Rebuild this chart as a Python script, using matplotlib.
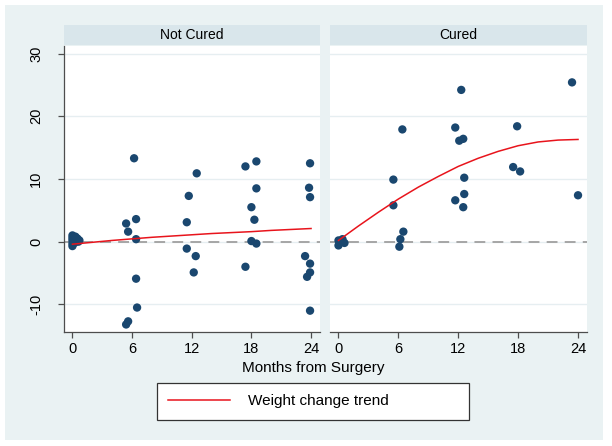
import matplotlib
matplotlib.use("Agg")
import matplotlib.pyplot as plt
from matplotlib.patches import Rectangle

plt.rcParams['font.family'] = ['Liberation Sans', 'DejaVu Sans']

# Not Cured panel: months after surgery and weight change
nc_months = [0, 0, 0, 0, 0, 0.1, 0.2, 0.3, 0.3, 0.5, 0.6, 0.7,
             5.4, 5.6, 6.4, 6.2, 6.4, 6.4, 6.5, 5.4, 5.6,
             11.5, 11.7, 12.5, 11.5, 12.4, 12.2,
             17.4, 18.5, 18.5, 18.0, 18.3, 18.0, 18.5, 17.4,
             23.9, 23.8, 23.9, 23.4, 23.9, 23.9, 23.6, 23.9]
nc_change = [1.0, 0.6, 0.2, -0.3, -0.7, 0.4, -0.2, 0.8, 0.3, 0.5, 0.0, 0.2,
             2.9, 1.6, 3.6, 13.3, 0.4, -5.9, -10.5, -13.2, -12.7,
             3.1, 7.3, 10.9, -1.1, -2.3, -4.9,
             12.0, 12.8, 8.5, 5.5, 3.5, 0.1, -0.3, -4.0,
             12.5, 8.6, 7.1, -2.3, -3.5, -4.9, -5.6, -11.0]

# Cured panel
c_months = [0, 0, 0.2, 0.4, 0.6,
            5.5, 5.5, 6.4, 6.5, 6.2, 6.1,
            12.3, 11.7, 12.1, 12.5, 12.6, 12.6, 11.7, 12.5,
            17.9, 17.5, 18.2, 23.4, 24.0]
c_change = [0.2, -0.6, 0.1, 0.4, -0.2,
            9.9, 5.8, 17.9, 1.6, 0.4, -0.8,
            24.2, 18.2, 16.1, 16.4, 10.2, 7.6, 6.6, 5.5,
            18.4, 11.9, 11.2, 25.4, 7.4]

# fitted trend
trend_months = [0, 2, 4, 6, 8, 10, 12, 14, 16, 18, 20, 22, 24]
nc_trend = [-0.4, -0.1, 0.2, 0.45, 0.7, 0.9, 1.1, 1.3, 1.45, 1.6, 1.8, 1.95, 2.1]
c_trend = [0.2, 2.5, 4.7, 6.8, 8.7, 10.4, 12.0, 13.3, 14.4, 15.3, 15.9, 16.2, 16.3]

panels = ['Not Cured', 'Cured']
x_ticks = [0, 6, 12, 18, 24]
y_ticks = [-10, 0, 10, 20, 30]
y_labels = ['-10', '0', '10', '20', '30']

W, H = 612, 446
fig = plt.figure(figsize=(W / 100, H / 100), dpi=100)
fig.patch.set_facecolor('white')

# graph region background
fig.patches.append(Rectangle((5 / W, 1 - 440 / H), 598 / W, 435 / H,
                             transform=fig.transFigure, facecolor='#eaf2f3',
                             edgecolor='none', zorder=-5))

navy = '#1a476f'
axis_col = '#4d4d4d'


def px_rect(x0, y0, x1, y1):
    return [x0 / W, 1 - y1 / H, (x1 - x0) / W, (y1 - y0) / H]


panel_x = [(64, 320), (330, 587)]
data = [(nc_months, nc_change, nc_trend), (c_months, c_change, c_trend)]

trend_line = None
for i, (title, (x0, x1), (mx, ch, tr)) in enumerate(zip(panels, panel_x, data)):
    ax = fig.add_axes(px_rect(x0, 46, x1, 332))
    ax.set_facecolor('white')
    ax.set_xlim(-0.85, 24.9)
    ax.set_ylim(-14.4, 31.2)
    for y in y_ticks:
        ax.axhline(y, color='#e6eef1', lw=1, zorder=1)
    ax.axhline(0, color='#a0a0a0', lw=1.3, ls=(0, (6, 4)), zorder=2)
    ax.scatter(mx, ch, s=36, color=navy, edgecolors='none', zorder=3)
    trend_line, = ax.plot(trend_months, tr, color='#e8141c', lw=1.1, zorder=4)

    for side in ['top', 'right']:
        ax.spines[side].set_visible(False)
    ax.spines['bottom'].set_color(axis_col)
    ax.spines['bottom'].set_linewidth(0.9)
    ax.set_xticks(x_ticks)
    ax.tick_params(axis='x', colors=axis_col, labelcolor='black', labelsize=10.5,
                   length=4, width=0.9, pad=3)
    ax.set_yticks(y_ticks)
    if i == 0:
        ax.spines['left'].set_color(axis_col)
        ax.spines['left'].set_linewidth(0.9)
        ax.set_yticklabels(y_labels, rotation=90, va='center', ha='right')
        ax.tick_params(axis='y', colors=axis_col, labelcolor='black', labelsize=10.5,
                       length=4, width=0.9, pad=11)
    else:
        ax.spines['left'].set_visible(False)
        ax.tick_params(axis='y', left=False, labelleft=False)

    # panel header strip
    sax = fig.add_axes(px_rect(x0, 25, x1, 45))
    sax.set_facecolor('#d9e6eb')
    sax.set_xticks([])
    sax.set_yticks([])
    for sp in sax.spines.values():
        sp.set_visible(False)
    sax.text(0.5, 0.5, title, ha='center', va='center', fontsize=10,
             transform=sax.transAxes)

fig.text(313 / W, 1 - 368 / H, 'Months from Surgery', ha='center', va='center',
         fontsize=11)

leg = fig.legend([trend_line], ['Weight change trend'], loc='center',
                 bbox_to_anchor=(157 / W, 1 - 422 / H, 312 / W, 41 / H),
                 mode='expand', fontsize=11, frameon=True, fancybox=False,
                 framealpha=1, facecolor='white',
                 handlelength=4.0, handletextpad=1.2, borderpad=0.75,
                 borderaxespad=0)
leg.get_frame().set_edgecolor('#333333')
leg.get_frame().set_linewidth(0.9)

fig.savefig('out.png', dpi=100)
